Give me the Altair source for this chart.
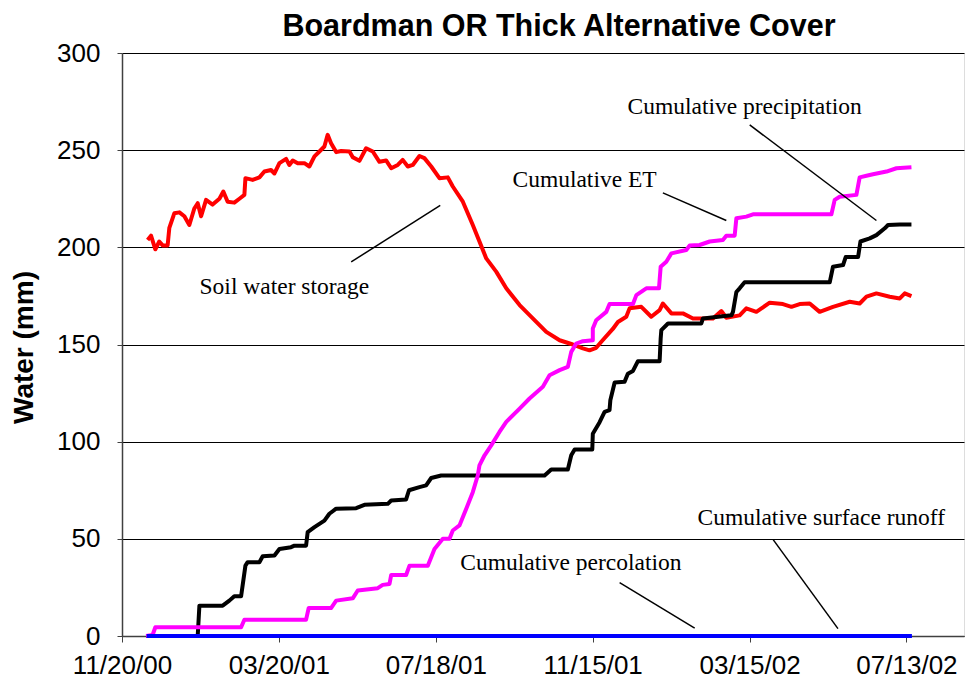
import altair as alt
import pandas as pd

START = pd.Timestamp("2000-11-20")

# Soil water storage (days since 11/20/00, mm)
storage_days = [19.6, 22.2, 25.5, 28.5, 31.1, 34.9, 36.2, 40.0, 43.9, 47.7, 51.5, 55.3, 57.9, 60.5, 64.3,
                69.3, 74.5, 77.5, 80.8, 85.9, 89.8, 93.6, 94.4, 99.9, 105.1, 108.9, 114.0, 116.6, 120.4,
                125.5, 128.0, 130.6, 134.4, 139.5, 143.3, 147.2, 151.0, 154.8, 157.3, 159.9, 163.8, 167.6,
                174.0, 176.5, 181.6, 186.7, 191.8, 196.9, 202.0, 205.9, 210.9, 214.7, 218.6, 222.4, 227.5,
                231.3, 236.5, 242.8, 249.2, 253.0, 260.7, 268.3, 273.4, 278.6, 286.2, 293.9, 304.1, 314.2,
                324.5, 334.7, 344.8, 352.5, 357.6, 362.7, 366.6, 375.4, 379.3, 385.7, 388.2, 397.2, 404.8,
                411.2, 413.7, 420.2, 429.0, 436.7, 444.3, 452.0, 458.4, 462.2, 472.4, 477.5, 485.2, 495.4,
                505.5, 512.0, 518.3, 526.0, 533.6, 543.8, 556.6, 564.2, 569.4, 577.0, 587.2, 594.9, 598.7,
                603.8]
storage_mm = [203.8, 206, 199, 203, 201, 201, 210, 217.5, 218, 216, 211.5, 220, 222.7, 216, 224.4,
              222, 225, 228.7, 223.5, 223, 225, 227, 235.6, 234.7, 236, 239, 239.8, 238, 243.3,
              245.5, 242.4, 244.7, 243.3, 243.3, 241.6, 246.8, 249.3, 251.9, 257.9, 253.6, 249, 249.6,
              249.3, 246.4, 244.5, 251, 249.3, 244, 244.7, 240.7, 242.4, 245, 241.6, 242.4, 247,
              245.9, 241.6, 235.6, 236, 231.3, 223.5, 211.5, 203, 194.3, 187.5, 178.9, 170.3, 163.4,
              156.5, 152.2, 150, 148, 147, 148.3, 151.4, 158, 161.6, 164.3, 168.6, 169.4, 164.3,
              167.7, 171.1, 166, 166, 163.4, 163.4, 163.4, 167.2, 163.8, 165, 168.6, 166.8, 171.5,
              170.8, 169.4, 170.8, 171.1, 166.8, 169.4, 172, 171.1, 174.6, 176.3, 174.6, 173.7, 176.3,
              174.9]

# Cumulative ET
et_days = [18.4, 23.4, 25.5, 91.1, 93.6, 140.8, 142.8, 159.9, 163.8, 176.5, 180.3, 195.6, 199.4, 204.6,
           205.9, 217.3, 219.9, 233.9, 239.0, 245.4, 250.5, 253.0, 258.1, 263.3, 268.3, 272.1, 273.4,
           277.3, 282.4, 288.7, 293.9, 304.1, 311.7, 321.9, 327.0, 334.7, 341.0, 343.6, 347.4, 352.5,
           360.1, 360.1, 362.7, 370.4, 372.9, 390.8, 393.4, 401.0, 410.7, 412.0, 416.3, 420.2, 431.6,
           434.2, 441.8, 449.5, 459.6, 462.2, 468.6, 469.9, 477.5, 482.6, 542.6, 545.1, 548.9, 561.7,
           564.2, 569.4, 574.4, 584.7, 592.3, 603.8]
et_mm = [0, 0.5, 4.5, 4.5, 8.4, 8.4, 14.4, 14.4, 18.2, 19.4, 23.4, 24.6, 26.3, 26.8,
         31.4, 31.4, 36.2, 36.2, 44.8, 50, 50, 54.3, 56.9, 65.5, 74, 82.6, 87.8,
         93, 98.1, 105, 110.2, 117, 122.2, 128.2, 134.2, 136.8, 138.5, 146.2, 150.5, 151.7,
         152.2, 158.2, 162.5, 166.8, 170.8, 170.8, 175.4, 178.9, 178.9, 190, 192.6, 196.9, 198.6,
         200.9, 201.2, 203, 203.8, 206, 206, 215, 215.8, 217, 217, 224.4, 226, 227,
         236, 236.8, 237.6, 239, 240.7, 241.2]

# Cumulative precipitation
precip_days = [18.4, 57.9, 59.2, 64.3, 77.0, 82.1, 85.9, 91.1, 94.4, 96.1, 105.1, 107.6, 116.6, 120.4,
               129.3, 131.9, 140.8, 142.0, 147.2, 151.0, 154.8, 158.6, 163.8, 179.1, 185.4, 203.3, 205.9,
               217.3, 219.5, 227.5, 232.6, 236.5, 244.1, 323.2, 328.3, 341.0, 343.6, 346.2, 359.7, 360.1,
               365.3, 369.1, 372.9, 373.5, 376.8, 384.4, 386.9, 390.8, 394.6, 411.2, 412.0, 412.5, 417.6,
               443.1, 444.3, 466.1, 467.3, 469.9, 472.4, 476.2, 541.3, 543.8, 551.5, 553.5, 563.0, 564.8,
               571.9, 577.0, 583.4, 585.9, 594.9, 603.8]
precip_mm = [0, 0, 15.6, 15.6, 15.6, 18.2, 20.5, 20.5, 36.2, 38, 38, 41, 41.4, 44.8,
             45.7, 46.5, 46.5, 53.4, 56, 57.7, 59.4, 62.9, 65.5, 65.8, 67.5, 68, 69.7,
             70.3, 75, 76.6, 77.5, 81.3, 82.6, 82.6, 85.7, 85.7, 93, 96, 96, 104.1,
             110, 115.3, 116.2, 121.3, 130.4, 130.8, 135, 136.4, 141.4, 141.4, 153, 157.4, 160.8,
             160.8, 163.4, 165, 166.8, 177, 178.9, 182, 182, 190, 190.9, 195, 195, 203,
             204.6, 206.3, 209.8, 211.5, 211.8, 211.8]

# Cumulative percolation and cumulative surface runoff
perc_days = [19, 604]
perc_mm = [0, 0]
runoff_days = [19, 604]
runoff_mm = [0, 0]

# Annotations
label_text = ["Cumulative precipitation", "Cumulative ET", "Soil water storage",
              "Cumulative percolation", "Cumulative surface runoff"]
label_day = [476.2, 353.8, 124.2, 343.3, 534.8]
label_mm = [268.8, 230.9, 176.2, 33.8, 56.9]
pointer_day1 = [480.1, 413.7, 175.3, 380.6, 497.9]
pointer_mm1 = [263.0, 228.0, 192.5, 27.5, 49.7]
pointer_day2 = [577.0, 462.2, 243.4, 438.0, 547.6]
pointer_mm2 = [213.8, 213.8, 221.6, 4.0, 3.8]

TITLE = "Boardman OR Thick Alternative Cover"


def to_date(days):
    return [(START + pd.to_timedelta(d, unit="D")).strftime("%Y-%m-%dT%H:%M:%S") for d in days]


def series_df(days, vals):
    return pd.DataFrame({"date": to_date(days), "mm": vals, "idx": list(range(len(days)))})


DT = lambda y, m, d: alt.DateTime(year=y, month=m, date=d)
tick_values = [DT(2000, 11, 20), DT(2001, 3, 20), DT(2001, 7, 18), DT(2001, 11, 15),
               DT(2002, 3, 15), DT(2002, 7, 13)]

SANS = "Liberation Sans, Arial, sans-serif"
SERIF = "Liberation Serif, Times New Roman, serif"

W, H = 842, 583

x_enc = alt.X("date:T",
              scale=alt.Scale(domain=[DT(2000, 11, 20), DT(2002, 8, 26)], nice=False),
              axis=alt.Axis(values=tick_values, format="%m/%d/%y", title=None, grid=False,
                            labelFont=SANS, labelFontSize=26, labelColor="black",
                            labelPadding=10, tickSize=6, tickColor="#404040",
                            domainColor="#404040", domainWidth=1.5, labelFlush=False,
                            labelOverlap=False))
y_enc = alt.Y("mm:Q",
              scale=alt.Scale(domain=[0, 300], nice=False),
              axis=alt.Axis(values=[0, 50, 100, 150, 200, 250, 300], grid=True,
                            gridColor="black", gridWidth=1, labelFont=SANS, labelFontSize=26,
                            labelColor="black", labelPadding=17, tickSize=5,
                            tickColor="#404040", domainColor="#404040", domainWidth=1.5,
                            title="Water (mm)", titleFont=SANS, titleFontSize=28,
                            titleFontWeight="bold", titleColor="black", titleAngle=270,
                            titleX=-98, titleY=294, titleAlign="center",
                            titleBaseline="middle"))


def line_layer(df, color):
    return alt.Chart(df).mark_line(color=color, strokeWidth=4, strokeJoin="round").encode(
        x=x_enc, y=y_enc, order="idx:Q")


storage = line_layer(series_df(storage_days, storage_mm), "#FF0000")
precip = line_layer(series_df(precip_days, precip_mm), "#000000")
et = line_layer(series_df(et_days, et_mm), "#FF00FF")
perc = line_layer(series_df(perc_days, perc_mm), "#0000FF")
runoff = line_layer(series_df(runoff_days, runoff_mm), "#0000FF")

ann_df = pd.DataFrame({"text": label_text, "date": to_date(label_day), "mm": label_mm})
ptr_df = pd.DataFrame({"d1": to_date(pointer_day1), "v1": pointer_mm1,
                       "d2": to_date(pointer_day2), "v2": pointer_mm2})

texts = alt.Chart(ann_df).mark_text(font=SERIF, fontSize=23.5, color="black", align="center",
                                     baseline="alphabetic").encode(
    x=alt.X("date:T"), y=alt.Y("mm:Q"), text="text:N")
pointers = alt.Chart(ptr_df).mark_rule(color="black", strokeWidth=1.5).encode(
    x=alt.X("d1:T"), y=alt.Y("v1:Q"), x2="d2:T", y2="v2:Q")

title_df = pd.DataFrame({"t": [TITLE]})
title = alt.Chart(title_df).mark_text(font=SANS, fontSize=30.5, fontWeight="bold", color="black",
                                       align="center", baseline="alphabetic").encode(
    x=alt.value(437), y=alt.value(-17.5), text="t:N")

chart = alt.layer(storage, precip, et, perc, runoff, pointers, texts, title).properties(
    width=W, height=H,
    autosize=alt.AutoSizeParams(type="none"),
    padding={"left": 114, "top": 45, "right": 1, "bottom": 50},
).configure_view(stroke="#808080", strokeWidth=2).configure(background="white")

chart.save("out.html", embed_options={"renderer": "svg", "actions": False})
